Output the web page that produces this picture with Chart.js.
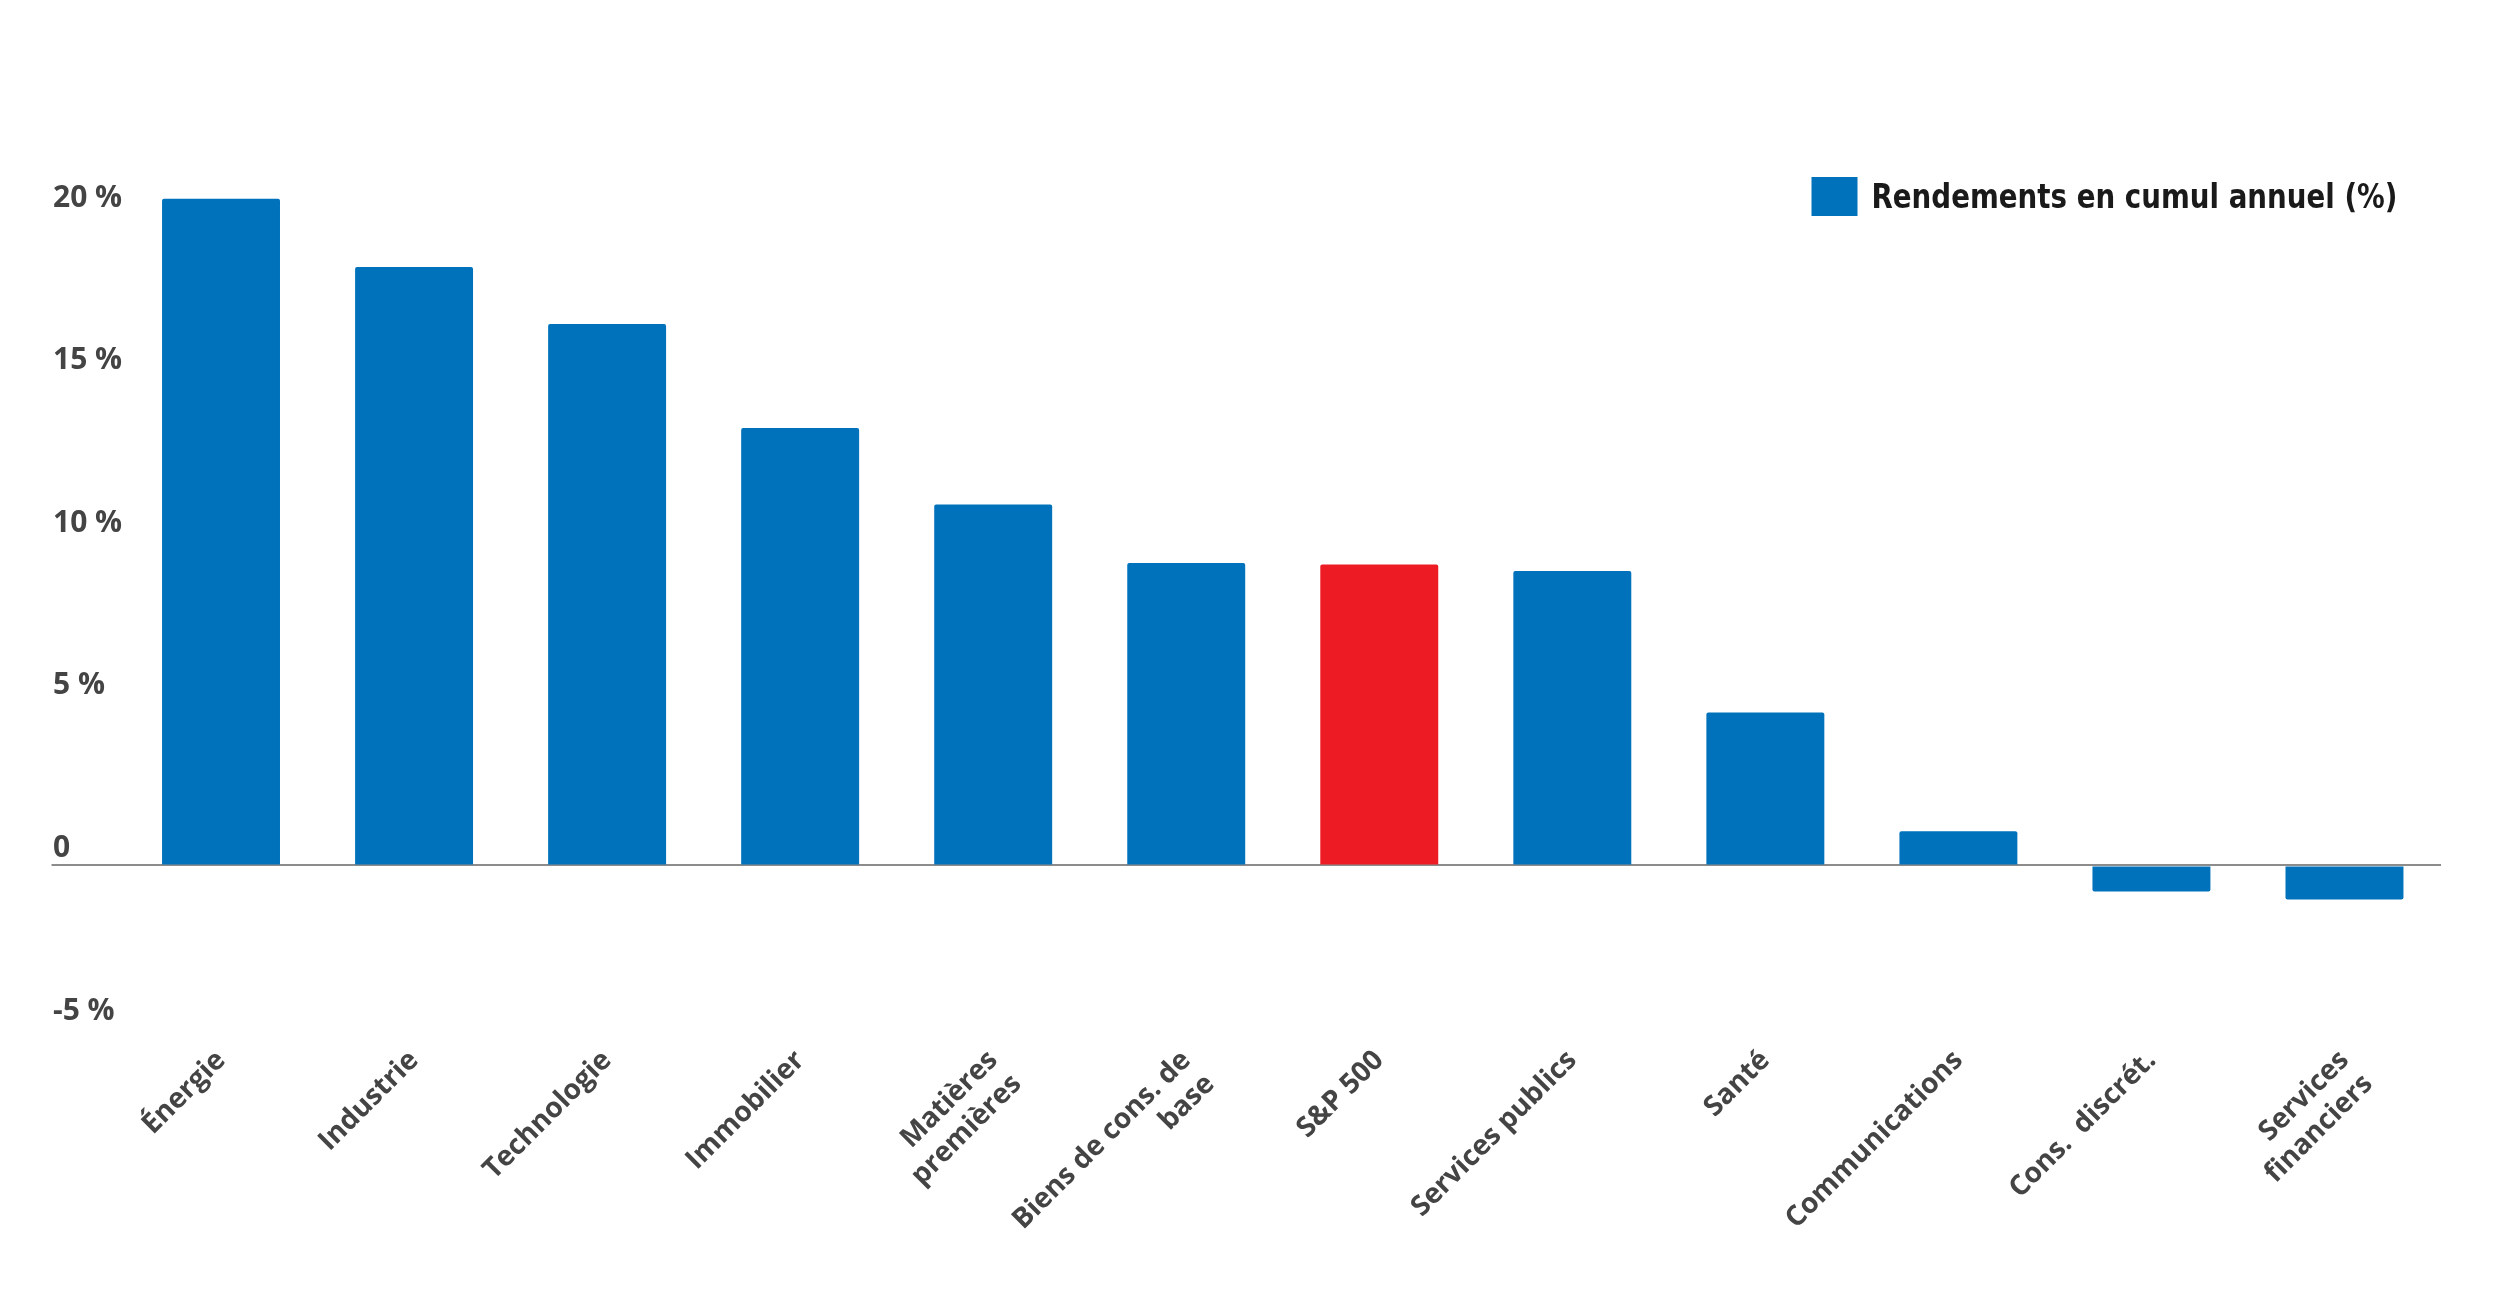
<!DOCTYPE html>
<html lang="fr">
<head>
<meta charset="UTF-8">
<title>Rendements en cumul annuel</title>
<style>
    html, body { margin: 0; padding: 0; background: #fff; }
    #wrap { width: 2497px; height: 1307px; }
</style>
</head>
<body>
<div id="wrap"><canvas id="chart"></canvas></div>

<script src="https://cdn.jsdelivr.net/npm/chart.js"></script>
<script>
    const categories = [
        'Énergie', 'Industrie', 'Technologie', 'Immobilier',
        ['Matières', 'premières'], ['Biens de cons. de', 'base'],
        'S&P 500', 'Services publics', 'Santé', 'Communications',
        'Cons.  discrét.', ['Services', 'financiers']
    ];
    const returns = [20.5, 18.4, 16.65, 13.45, 11.1, 9.3, 9.25, 9.05, 4.7, 1.05, -0.8, -1.05];
    const yTicks = [-5, 0, 5, 10, 15, 20];
    const seriesLabel = 'Rendements en cumul annuel (%)';

    const BLUE = '#0072bc';
    const RED = '#ed1c24';
    const AXIS_GREY = '#8c8c8c';
    const TEXT = '#444444';

    const zeroOnly = c => (c.tick && c.tick.value === 0) ? AXIS_GREY : 'rgba(0,0,0,0)';

    // legend sits inside the plot, top right, so draw it by hand
    const legendBox = {
        id: 'legendBox',
        afterDraw(chart) {
            const { ctx, chartArea } = chart;
            const ds = chart.data.datasets[0];
            const textW = 526; // narrow face, squeeze to the measured width
            ctx.save();
            ctx.font = "bold 33px 'DejaVu Sans Condensed', 'DejaVu Sans', sans-serif";
            ctx.textBaseline = 'alphabetic';
            ctx.textAlign = 'left';
            const sx = textW / ctx.measureText(ds.label).width;
            const textLeft = chartArea.right - 43.5 - textW;
            const top = chartArea.top;
            ctx.fillStyle = BLUE;
            ctx.fillRect(textLeft - 14 - 46, top + 27, 46, 39);
            ctx.fillStyle = '#1a1a1a';
            ctx.translate(textLeft, top + 58);
            ctx.scale(sx, 1);
            ctx.fillText(ds.label, 0, 0);
            ctx.restore();
        }
    };

    new Chart(document.getElementById('chart'), {
        type: 'bar',
        data: {
            labels: categories,
            datasets: [{
                label: seriesLabel,
                data: returns,
                backgroundColor: c => (categories[c.dataIndex] === 'S&P 500') ? RED : BLUE,
                categoryPercentage: 1,
                barPercentage: 0.611,
                borderRadius: 2
            }]
        },
        options: {
            responsive: true,
            maintainAspectRatio: false,
            animation: false,
            layout: { padding: { left: 53, right: 56, top: 150, bottom: 0 } },
            plugins: {
                tooltip: { enabled: false },
                legend: { display: false }
            },
            scales: {
                x: {
                    grid: { display: false, drawTicks: false },
                    border: { display: false },
                    afterFit: s => { s.height = 279; },
                    ticks: {
                        autoSkip: false,
                        minRotation: 45,
                        maxRotation: 45,
                        padding: 16,
                        color: TEXT,
                        font: { family: "'Open Sans', sans-serif", size: 28, weight: 'bold', lineHeight: 1.2 }
                    }
                },
                y: {
                    min: -5,
                    max: 22,
                    afterBuildTicks: s => { s.ticks = yTicks.map(v => ({ value: v })); },
                    afterFit: s => { s.width = 71.5; },
                    border: { display: false },
                    grid: { color: zeroOnly, tickColor: zeroOnly, lineWidth: 2, tickLength: 73 },
                    ticks: {
                        crossAlign: 'far',
                        padding: 0,
                        labelOffset: -17,
                        color: TEXT,
                        font: { family: "'Open Sans', sans-serif", size: 30, weight: 'bold' },
                        callback: v => v === 0 ? '0' : v + ' %'
                    }
                }
            }
        },
        plugins: [legendBox]
    });
</script>
</body>
</html>
